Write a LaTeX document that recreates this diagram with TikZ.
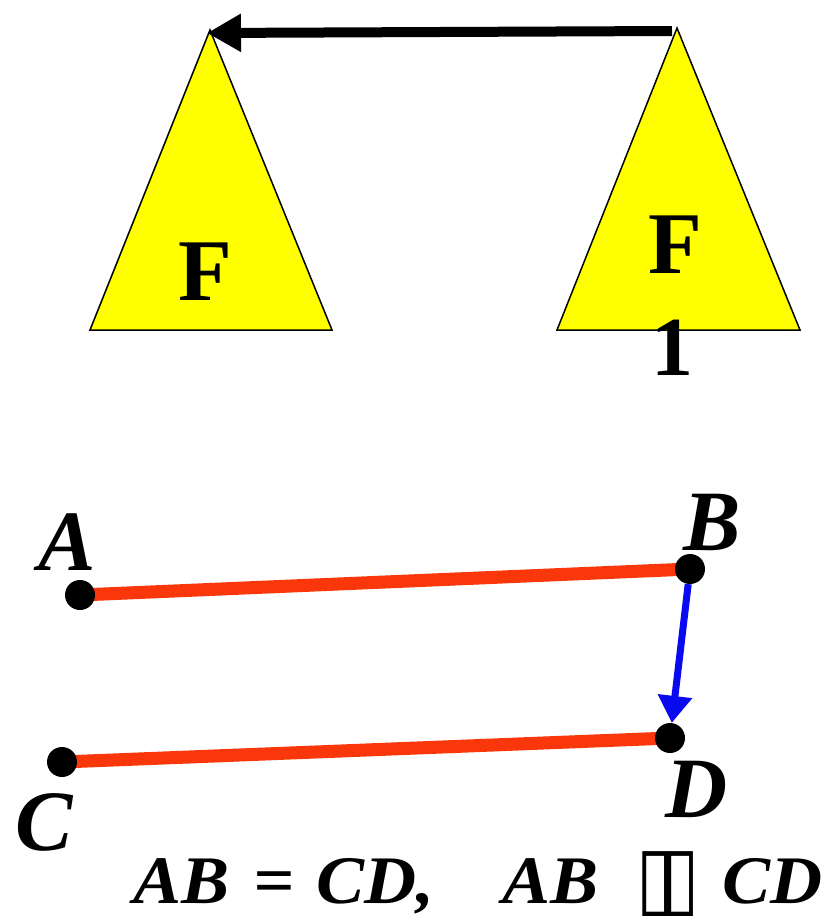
\documentclass[tikz,border=0pt]{standalone}
\usepackage{fontspec}
\setmainfont{Liberation Serif}
\newfontfamily\eqfont{Liberation Serif}[FakeStretch=1.06]
\newfontfamily\dvsans{DejaVu Sans}
\usetikzlibrary{arrows.meta}
\definecolor{triyellow}{RGB}{255,255,0}
\definecolor{segred}{RGB}{250,55,10}
\definecolor{moveblue}{RGB}{10,10,240}
\tikzset{
  tri/.style={fill=triyellow,draw=black,line width=1.5pt,line join=miter},
  bigF/.style={font=\fontsize{88}{88}\selectfont\bfseries,anchor=base,inner sep=0pt},
  ptlabel/.style={font=\fontsize{86}{86}\selectfont\bfseries\itshape,anchor=base,inner sep=0pt},
  eqtext/.style={font=\eqfont\fontsize{68}{68}\selectfont\bfseries\itshape,anchor=base west,inner sep=0pt},
  segment/.style={draw=segred,line width=13pt},
  dot/.style={circle,fill=black,minimum size=30pt,inner sep=0pt},
  movearrow/.style={draw=black,line width=10pt,-{Triangle[length=34pt,width=36pt]}},
  vecarrow/.style={draw=moveblue,line width=7pt,-{Triangle[length=27pt,width=33pt]}},
}
\newcommand{\tofubox}{\makebox[25pt][c]{\scalebox{1.12}[1.38]{▯}}}
\begin{document}
\begin{tikzpicture}[x=1pt,y=-1pt]
\useasboundingbox (0,0) rectangle (830,916);
\fill[white] (0,0) rectangle (830,916);
% triangles
\draw[tri] (210,30) coordinate (LT) -- (90,330) -- (332,330) -- cycle;
\draw[tri] (677,28) coordinate (RT) -- (557,330) -- (800,330) -- cycle;
\node[bigF] (f1) at (205,300) {F};
\node[bigF] (f2) at (675,273) {F};
\node[font=\fontsize{84}{84}\selectfont\bfseries,anchor=base,inner sep=0pt] (one) at (672,375) {1};
% translation arrow
\coordinate (arrowstart) at (672,31);
\coordinate (arrowend) at (207,33);
\draw[movearrow] (arrowstart) -- (arrowend);
% segments
\coordinate (A) at (80,595);
\coordinate (B) at (690,569);
\coordinate (C) at (62,762);
\coordinate (D) at (670,738);
\draw[segment] (A) -- (B);
\draw[segment] (C) -- (D);
\node[dot] (a) at (A) {};
\node[dot] (b) at (B) {};
\node[dot] (c) at (C) {};
\node[dot] (d) at (D) {};
\draw[vecarrow] (b) -- (d);
\node[ptlabel] (la) at (67,570) {A};
\node[ptlabel] (lb) at (712,550) {B};
\node[ptlabel] (lc) at (44,850) {C};
\node[ptlabel] (ld) at (697,817) {D};
% equation
\node[eqtext] (t1) at (133,903) {AB};
\node[eqtext,anchor=base] (t2) at (274,903) {=};
\node[eqtext] (t3) at (316,903) {CD,};
\node[eqtext] (t4) at (502,903) {AB};
\node[font=\dvsans\fontsize{62}{62}\selectfont,anchor=base west,inner sep=0pt] (t5) at (643,906) {\tofubox\tofubox};
\node[eqtext] (t6) at (722,903) {CD};
\end{tikzpicture}
\end{document}
